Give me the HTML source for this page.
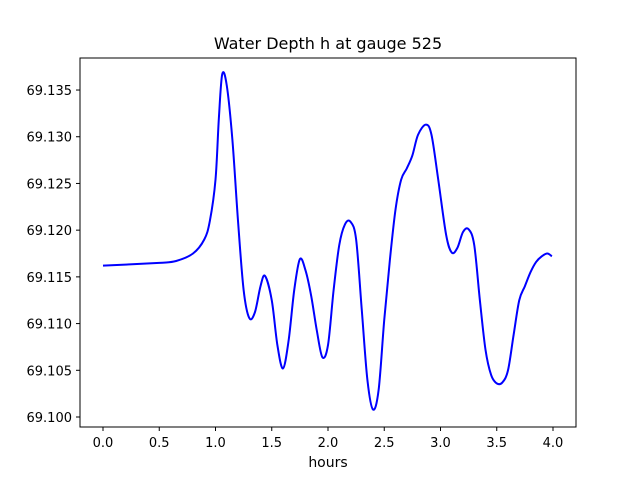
<!DOCTYPE html>
<html><head><meta charset="utf-8">
<style>
body{margin:0;background:#fff;}
svg{display:block;font-family:"DejaVu Sans","Liberation Sans",sans-serif;}
</style></head>
<body>
<svg id="chart" width="640" height="480">
<rect width="640" height="480" fill="#fff"/>
<text x="328" y="49" font-size="16" text-anchor="middle">Water Depth h at gauge 525</text>
<g id="ticks"></g>
<path id="line" fill="none" stroke="#0000ff" stroke-width="2"/>
<rect x="80" y="58" width="496" height="369" fill="none" stroke="#000" stroke-width="1"/>
<text x="328" y="467" font-size="14" text-anchor="middle">hours</text>
</svg>
<script>
const hours=[0,0.5,0.65,0.8,0.9,0.95,1.0,1.03,1.06,1.1,1.15,1.2,1.25,1.3,1.35,1.4,1.44,1.5,1.55,1.6,1.65,1.7,1.75,1.8,1.85,1.9,1.95,2.0,2.05,2.1,2.15,2.2,2.25,2.3,2.35,2.4,2.45,2.5,2.55,2.6,2.65,2.7,2.75,2.8,2.87,2.92,2.98,3.05,3.1,3.15,3.2,3.25,3.3,3.35,3.4,3.45,3.5,3.55,3.6,3.65,3.7,3.75,3.8,3.85,3.9,3.95,3.99];
const depth=[69.1162,69.1165,69.1167,69.1175,69.119,69.121,69.1254,69.132,69.1367,69.1355,69.1297,69.121,69.1136,69.1106,69.1112,69.114,69.1151,69.1125,69.1077,69.1052,69.1082,69.1136,69.1169,69.1157,69.113,69.1093,69.1064,69.1077,69.1136,69.1184,69.1206,69.1209,69.119,69.1115,69.104,69.1008,69.1029,69.1104,69.1168,69.1222,69.1254,69.1266,69.128,69.1302,69.1313,69.1302,69.1254,69.1195,69.1176,69.1181,69.1198,69.1201,69.1184,69.1125,69.1072,69.1045,69.1036,69.1037,69.105,69.1088,69.1125,69.114,69.1155,69.1166,69.1172,69.1175,69.1172];
const xTicks=[0,0.5,1,1.5,2,2.5,3,3.5,4];
const xTickLabels=["0.0","0.5","1.0","1.5","2.0","2.5","3.0","3.5","4.0"];
const yTicks=[69.100,69.105,69.110,69.115,69.120,69.125,69.130,69.135];
const yTickLabels=["69.100","69.105","69.110","69.115","69.120","69.125","69.130","69.135"];
function xs(v){return 103+v*112.5;}
function ys(v){return 417-(v-69.100)/0.005*46.71;}
const NS="http://www.w3.org/2000/svg";
const g=document.getElementById('ticks');
xTicks.forEach((t,i)=>{
 const l=document.createElementNS(NS,'line');
 l.setAttribute('x1',xs(t));l.setAttribute('x2',xs(t));l.setAttribute('y1',427);l.setAttribute('y2',431);l.setAttribute('stroke','#000');
 
 
 g.appendChild(l);
 const tx=document.createElementNS(NS,'text');
 tx.setAttribute('x',xs(t));tx.setAttribute('y',447);tx.setAttribute('font-size','13');tx.setAttribute('text-anchor','middle');
 tx.textContent=xTickLabels[i];
 
 
 g.appendChild(tx);
});
yTicks.forEach((t,i)=>{
 const l=document.createElementNS(NS,'line');
 l.setAttribute('x1',76);l.setAttribute('x2',80);l.setAttribute('y1',ys(t));l.setAttribute('y2',ys(t));l.setAttribute('stroke','#000');
 
 
 g.appendChild(l);
 const tx=document.createElementNS(NS,'text');
 tx.setAttribute('x',72);tx.setAttribute('y',ys(t)+5);tx.setAttribute('font-size','13');tx.setAttribute('text-anchor','end');
 tx.textContent=yTickLabels[i];
 
 
 g.appendChild(tx);
});
const P=hours.map((h,i)=>[xs(h),ys(depth[i])]);
let d='M'+P[0][0]+','+P[0][1];
for(let i=0;i<P.length-1;i++){
 const p0=P[Math.max(0,i-1)],p1=P[i],p2=P[i+1],p3=P[Math.min(P.length-1,i+2)];
 const c1=[p1[0]+(p2[0]-p0[0])/6,p1[1]+(p2[1]-p0[1])/6];
 const c2=[p2[0]-(p3[0]-p1[0])/6,p2[1]-(p3[1]-p1[1])/6];
 d+=' C'+c1[0]+','+c1[1]+' '+c2[0]+','+c2[1]+' '+p2[0]+','+p2[1];
}
document.getElementById('line').setAttribute('d',d);
</script>
</body></html>
